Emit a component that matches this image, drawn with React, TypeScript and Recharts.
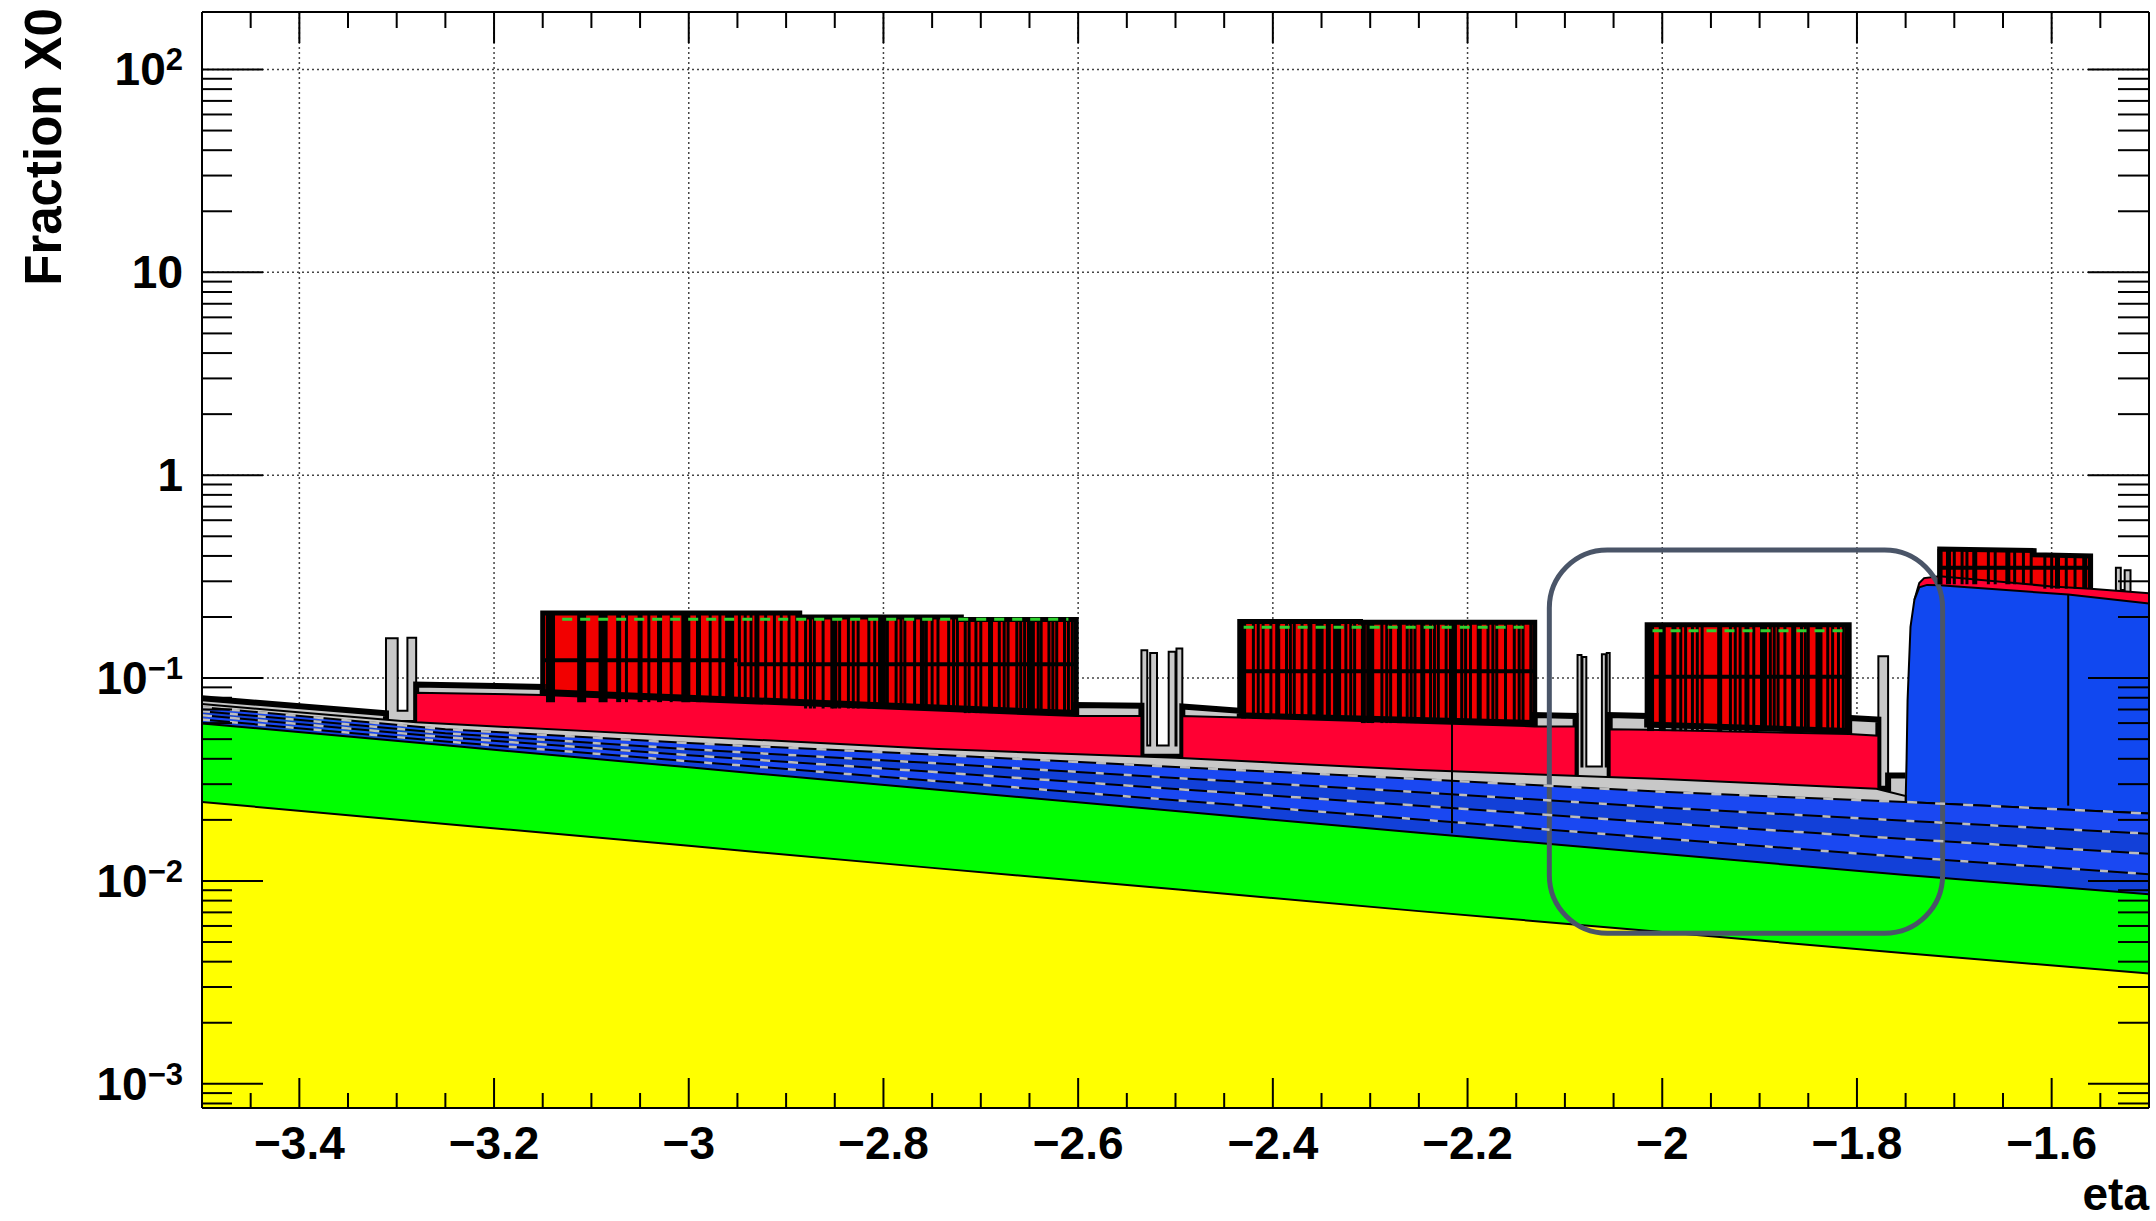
import React from 'react';
import { ComposedChart, Area, Line, XAxis, YAxis, CartesianGrid, ReferenceLine, ReferenceArea } from 'recharts';

type Pt = [number, number];

// ---------- axis ticks ----------
const majorX = [-3.4, -3.2, -3.0, -2.8, -2.6, -2.4, -2.2, -2.0, -1.8, -1.6];
const xLabels = ['\u22123.4', '\u22123.2', '\u22123', '\u22122.8', '\u22122.6', '\u22122.4', '\u22122.2', '\u22122', '\u22121.8', '\u22121.6'];
const minorX = [-3.45, -3.35, -3.3, -3.25, -3.15, -3.1, -3.05, -2.95, -2.9, -2.85, -2.75, -2.7, -2.65, -2.55, -2.5, -2.45,
  -2.35, -2.3, -2.25, -2.15, -2.1, -2.05, -1.95, -1.9, -1.85, -1.75, -1.7, -1.65, -1.55];
const majorY = [0.001, 0.01, 0.1, 1, 10, 100];
const yLabelBase = ['10', '10', '10', '1', '10', '10'];
const yLabelExp = ['\u22123', '\u22122', '\u22121', '', '', '2'];
const minorY = [0.0008, 0.0009,
  0.002, 0.003, 0.004, 0.005, 0.006, 0.007, 0.008, 0.009,
  0.02, 0.03, 0.04, 0.05, 0.06, 0.07, 0.08, 0.09,
  0.2, 0.3, 0.4, 0.5, 0.6, 0.7, 0.8, 0.9,
  2, 3, 4, 5, 6, 7, 8, 9,
  20, 30, 40, 50, 60, 70, 80, 90];
const xDomain = [-3.5, -1.5];
const yDomain = [0.00076, 192];

// ---------- smooth layers (read at these eta values) ----------
const bandEta = [-3.5, -3.25, -3.0, -2.75, -2.5, -2.25, -2.0, -1.75, -1.5];
const yellowTop = [0.0245, 0.0191, 0.0149, 0.0116, 0.0091, 0.0071, 0.0056, 0.0044, 0.0035];
const greenTop = [0.0598, 0.0466, 0.0363, 0.0283, 0.0221, 0.0173, 0.0136, 0.0107, 0.0086];
const stripe1Top = [0.0625, 0.0487, 0.0389, 0.0312, 0.0250, 0.0201, 0.0162, 0.0131, 0.0108];
const stripe2Top = [0.0656, 0.0511, 0.0417, 0.0345, 0.0284, 0.0235, 0.0193, 0.0161, 0.0136];
const stripe3Top = [0.0687, 0.0535, 0.0446, 0.0381, 0.0322, 0.0274, 0.0230, 0.0198, 0.0171];
const blueTop = [0.0719, 0.0560, 0.0478, 0.0420, 0.0365, 0.0318, 0.0275, 0.0245, 0.0215];

// ---------- stepped layers: [eta, value] ----------
const greyTop: Pt[] = [[-3.5, 0.0745], [-3.28, 0.0605], [-3.0, 0.0516], [-2.75, 0.0448], [-2.5, 0.0405], [-2.25, 0.0352],
  [-2.0, 0.0318], [-1.78, 0.0285], [-1.75, 0.0262], [-1.75, 0.0245], [-1.5, 0.0215]];
const capTop: Pt[] = [[-3.5, 0.0796], [-3.311, 0.067], [-3.311, 0.06], [-3.28, 0.06], [-3.28, 0.093], [-3.15, 0.0905],
  [-3.15, 0.0855], [-2.602, 0.0672], [-2.602, 0.0736], [-2.535, 0.073], [-2.535, 0.041], [-2.493, 0.041], [-2.493, 0.0725],
  [-2.434, 0.069], [-2.434, 0.0655], [-2.131, 0.06], [-2.131, 0.0657], [-2.089, 0.065], [-2.089, 0.0318], [-2.054, 0.0318],
  [-2.054, 0.0657], [-2.0155, 0.065], [-2.0155, 0.059], [-1.808, 0.0548], [-1.808, 0.0636], [-1.778, 0.0625], [-1.778, 0.0285],
  [-1.768, 0.0285], [-1.768, 0.0331], [-1.75, 0.0331]];
const pinkA: Pt[] = [[-3.28, 0.0605], [-3.28, 0.0847], [-3.15, 0.0826], [-2.602, 0.065], [-2.535, 0.065], [-2.535, 0.0412]];
const pinkB: Pt[] = [[-2.493, 0.04], [-2.493, 0.065], [-2.434, 0.064], [-2.131, 0.0578], [-2.089, 0.0578], [-2.089, 0.0318]];
const pinkC: Pt[] = [[-2.054, 0.0318], [-2.054, 0.056], [-2.0155, 0.0556], [-1.808, 0.053], [-1.778, 0.052], [-1.778, 0.0285]];
const pinkD: Pt[] = [[-1.741, 0.243], [-1.736, 0.294], [-1.731, 0.311], [-1.715, 0.318], [-1.6, 0.283], [-1.56, 0.276], [-1.5, 0.262]];
const blockTop: Pt[] = [[-1.75, 0.0245], [-1.749, 0.04], [-1.748, 0.078], [-1.745, 0.179], [-1.741, 0.243], [-1.736, 0.28],
  [-1.728, 0.288], [-1.715, 0.287], [-1.583, 0.258], [-1.5, 0.233]];
const disk1: Pt[] = [[-3.15, 0.0855], [-3.15, 0.2095], [-2.886, 0.2095], [-2.886, 0.2001], [-2.72, 0.2001], [-2.72, 0.1944],
  [-2.602, 0.1944], [-2.602, 0.0672]];
const disk2: Pt[] = [[-2.434, 0.0655], [-2.434, 0.19], [-2.31, 0.19], [-2.31, 0.1884], [-2.131, 0.1884], [-2.131, 0.06]];
const disk3: Pt[] = [[-2.0155, 0.059], [-2.0155, 0.183], [-1.808, 0.183], [-1.808, 0.0548]];
const disk4: Pt[] = [[-1.715, 0.3], [-1.715, 0.433], [-1.618, 0.425], [-1.618, 0.405], [-1.56, 0.4], [-1.56, 0.276]];
const spikesL: Pt[] = [[-3.311, 0.06], [-3.311, 0.157], [-3.299, 0.157], [-3.299, 0.069], [-3.289, 0.069], [-3.289, 0.158],
  [-3.28, 0.158], [-3.28, 0.06]];
const spikesM: Pt[] = [[-2.535, 0.041], [-2.535, 0.137], [-2.529, 0.137], [-2.529, 0.0465], [-2.526, 0.0465], [-2.526, 0.133],
  [-2.519, 0.133], [-2.519, 0.0465], [-2.507, 0.0465], [-2.507, 0.135], [-2.5, 0.135], [-2.5, 0.0465], [-2.499, 0.0465],
  [-2.499, 0.14], [-2.493, 0.14], [-2.493, 0.041]];
const spikesR: Pt[] = [[-2.087, 0.0318], [-2.087, 0.13], [-2.083, 0.13], [-2.083, 0.0367], [-2.082, 0.0367], [-2.082, 0.127],
  [-2.078, 0.127], [-2.078, 0.0367], [-2.062, 0.0367], [-2.062, 0.131], [-2.058, 0.131], [-2.058, 0.0367], [-2.057, 0.0367],
  [-2.057, 0.133], [-2.054, 0.133], [-2.054, 0.0318]];
const spikeE: Pt[] = [[-1.778, 0.0285], [-1.778, 0.128], [-1.768, 0.128], [-1.768, 0.0285]];
const spikesF: Pt[] = [[-1.534, 0.27], [-1.534, 0.35], [-1.529, 0.35], [-1.529, 0.272], [-1.525, 0.272], [-1.525, 0.34],
  [-1.519, 0.34], [-1.519, 0.268]];

// ---------- disk module lines: eta positions, with group [bottom, top] ----------
const d1LRange = [0.0761, 0.2095];
const d1LWide = [-3.142, -3.11, -3.088, -3.003, -2.958];
const d1LMid = [-3.072, -3.05, -3.03, -2.99, -2.93];
const d1LThin = [-3.064, -3.041, -3.018, -2.978, -2.968, -2.948, -2.942, -2.936, -2.921, -2.912, -2.905, -2.897, -2.889];
const d1MRange = [0.0708, 0.2001];
const d1MMid = [-2.85, -2.8, -2.76];
const d1MThin = [-2.88, -2.875, -2.871, -2.862, -2.853, -2.845, -2.836, -2.831, -2.826, -2.815, -2.809, -2.804, -2.796, -2.787,
  -2.782, -2.778, -2.768, -2.756, -2.75, -2.744, -2.733, -2.728, -2.724];
const d1RRange = [0.0672, 0.1944];
const d1RMid = [-2.69, -2.65];
const d1RThin = [-2.716, -2.712, -2.705, -2.7, -2.681, -2.676, -2.672, -2.663, -2.659, -2.655, -2.646, -2.641, -2.638, -2.63,
  -2.626, -2.622, -2.614, -2.61, -2.606];
const d2LRange = [0.0632, 0.19];
const d2LWide = [-2.352, -2.334];
const d2LMid = [-2.43, -2.362, -2.343, -2.395];
const d2LThin = [-2.42, -2.415, -2.41, -2.402, -2.386, -2.382, -2.378, -2.37, -2.325, -2.32, -2.316];
const d2RRange = [0.06, 0.1884];
const d2RWide = [-2.215, -2.3];
const d2RMid = [-2.307, -2.246, -2.27, -2.188];
const d2RThin = [-2.298, -2.288, -2.283, -2.279, -2.262, -2.258, -2.254, -2.238, -2.234, -2.23, -2.222, -2.206, -2.202, -2.197,
  -2.179, -2.174, -2.17, -2.161, -2.152, -2.147, -2.143, -2.135];
const d3Range = [0.0548, 0.183];
const d3Wide = [-2.012, -2.0, -1.896, -1.839];
const d3Mid = [-1.941, -1.988, -1.913, -1.865];
const d3Thin = [-1.981, -1.976, -1.969, -1.964, -1.959, -1.93, -1.925, -1.92, -1.906, -1.889, -1.885, -1.881, -1.874, -1.857,
  -1.853, -1.85, -1.83, -1.825, -1.819, -1.814, -1.811];
const d4LRange = [0.29, 0.433];
const d4LMid = [-1.7147, -1.679, -1.645, -1.706];
const d4LThin = [-1.7, -1.692, -1.687, -1.665, -1.658, -1.638, -1.629, -1.621];
const d4RRange = [0.276, 0.405];
const d4RMid = [-1.594, -1.566];
const d4RThin = [-1.607, -1.6, -1.585, -1.576, -1.561];
// horizontal lines inside disks: [from, to, value]
const diskMidLines = [[-3.15, -2.95, 0.1225], [-2.95, -2.602, 0.117], [-2.434, -2.131, 0.108], [-2.0155, -1.808, 0.1015], [-1.715, -1.56, 0.35]];
const diskGreenLines = [[-3.13, -2.61, 0.195], [-2.43, -2.14, 0.178], [-2.01, -1.81, 0.171]];
// module boundaries: [eta, bottom, top]
const boundaryLines = [[-2.216, 0.0172, 0.06], [-1.583, 0.0235, 0.258]];

// annotation box (data coords)
const boxEta = [-2.116, -1.712];
const boxVal = [0.00553, 0.428];

// ---------- build table ----------
const pointLayers: [string, Pt[]][] = [
  ['yellow', bandEta.map((e, i) => [e, yellowTop[i]] as Pt)],
  ['green', bandEta.map((e, i) => [e, greenTop[i]] as Pt)],
  ['s1', bandEta.map((e, i) => [e, stripe1Top[i]] as Pt)],
  ['s2', bandEta.map((e, i) => [e, stripe2Top[i]] as Pt)],
  ['s3', bandEta.map((e, i) => [e, stripe3Top[i]] as Pt)],
  ['blue', bandEta.map((e, i) => [e, blueTop[i]] as Pt)],
  ['grey', greyTop], ['cap', capTop], ['pinkA', pinkA], ['pinkB', pinkB], ['pinkC', pinkC], ['pinkD', pinkD],
  ['block', blockTop], ['disk1', disk1], ['disk2', disk2], ['disk3', disk3], ['disk4', disk4],
  ['spikesL', spikesL], ['spikesM', spikesM], ['spikesR', spikesR], ['spikeE', spikeE], ['spikesF', spikesF],
];
const rows: any[] = [];
let order = 0;
pointLayers.forEach(([key, pts]) => pts.forEach(([eta, v]) => rows.push({ eta, [key]: v, _o: order++ })));
rows.sort((a, b) => a.eta - b.eta || a._o - b._o);

// paint order: top layers first, lower layers painted over them
const paint: { key: string; fill: string; sw: number }[] = [
  { key: 'disk1', fill: '#F20000', sw: 5 },
  { key: 'disk2', fill: '#F20000', sw: 5 },
  { key: 'disk3', fill: '#F20000', sw: 5 },
  { key: 'disk4', fill: '#F20000', sw: 5 },
  { key: 'spikesL', fill: '#C8C8C8', sw: 2 },
  { key: 'spikesM', fill: '#C8C8C8', sw: 2 },
  { key: 'spikesR', fill: '#C8C8C8', sw: 2 },
  { key: 'spikeE', fill: '#C8C8C8', sw: 2 },
  { key: 'spikesF', fill: '#C8C8C8', sw: 2 },
  { key: 'cap', fill: '#C8C8C8', sw: 6 },
  { key: 'pinkA', fill: '#FF0033', sw: 2 },
  { key: 'pinkB', fill: '#FF0033', sw: 2 },
  { key: 'pinkC', fill: '#FF0033', sw: 2 },
  { key: 'pinkD', fill: '#FF0033', sw: 2 },
  { key: 'block', fill: '#1148F0', sw: 2 },
  { key: 'grey', fill: '#C8C8C8', sw: 2 },
  { key: 'blue', fill: '#1A48F2', sw: 2 },
  { key: 's3', fill: '#1240D8', sw: 2 },
  { key: 's2', fill: '#1A48F2', sw: 2 },
  { key: 's1', fill: '#1240D8', sw: 2 },
  { key: 'green', fill: '#00FF00', sw: 2 },
  { key: 'yellow', fill: '#FFFF00', sw: 2 },
];
const dashKeys = ['s1', 's2', 's3', 'blue'];

const FONT = '"Liberation Sans", Arial, Helvetica, sans-serif';
const isIn = (arr: number[], v: number) => arr.findIndex((m) => Math.abs(m - v) <= Math.abs(m) * 1e-6 + 1e-9);

const BottomTick = (p: any) => {
  const { x, y, payload } = p;
  const i = isIn(majorX, payload.value);
  const len = i >= 0 ? 30 : 15;
  return (
    <g>
      <line x1={x} x2={x} y1={y} y2={y - len} stroke="#000" strokeWidth={2} />
      {i >= 0 && (
        <text x={x} y={y + 51} textAnchor="middle" fontFamily={FONT} fontWeight="bold" fontSize={46} fill="#000">
          {xLabels[i]}
        </text>
      )}
    </g>
  );
};
const TopTick = (p: any) => {
  const { x, y, payload } = p;
  const len = isIn(majorX, payload.value) >= 0 ? 31 : 16;
  return <line x1={x} x2={x} y1={y} y2={y + len} stroke="#000" strokeWidth={2} />;
};
const LeftTick = (p: any) => {
  const { x, y, payload } = p;
  const i = isIn(majorY, payload.value);
  const len = i >= 0 ? 61 : 30;
  return (
    <g>
      <line x1={x} x2={x + len} y1={y} y2={y} stroke="#000" strokeWidth={2} />
      {i >= 0 && (
        <text x={x - 19} y={y + 16} textAnchor="end" fontFamily={FONT} fontWeight="bold" fontSize={46} fill="#000">
          {yLabelBase[i]}
          {yLabelExp[i] && (
            <tspan fontSize={31} dy={-15}>
              {yLabelExp[i]}
            </tspan>
          )}
        </text>
      )}
    </g>
  );
};
const RightTick = (p: any) => {
  const { x, y, payload } = p;
  const len = isIn(majorY, payload.value) >= 0 ? 61 : 31;
  return <line x1={x} x2={x - len} y1={y} y2={y} stroke="#000" strokeWidth={2} />;
};

const YTitle = () => (
  <text transform="translate(61,8) rotate(-90)" textAnchor="end" fontFamily={FONT} fontWeight="bold" fontSize={51} fill="#000">
    Fraction X0
  </text>
);
const XTitle = () => (
  <text x={2149} y={1210} textAnchor="end" fontFamily={FONT} fontWeight="bold" fontSize={46} fill="#000">
    eta
  </text>
);

const vLines = (etas: number[], range: number[], w: number, tag: string) =>
  etas.map((e, i) => (
    <ReferenceLine key={tag + i} segment={[{ x: e, y: range[0] }, { x: e, y: range[1] }]} stroke="#000" strokeWidth={w} ifOverflow="visible" />
  ));

const allXTicks = [...majorX, ...minorX].sort((a, b) => a - b);
const allYTicks = [...majorY, ...minorY].sort((a, b) => a - b);

export default function App() {
  return (
    <div style={{ position: 'absolute', left: 0, top: 0, width: 2156, height: 1221, background: '#fff' }}>
      <ComposedChart width={2156} height={1221} data={rows} margin={{ top: 0, right: 0, bottom: 0, left: 0 }}>
        <CartesianGrid horizontalValues={majorY} verticalValues={majorX} stroke="#444" strokeDasharray="2 3" strokeWidth={1.5} />
        {paint.map((l) => (
          <Area
            key={l.key}
            type="linear"
            dataKey={l.key}
            connectNulls
            baseValue="dataMin"
            fill={l.fill}
            fillOpacity={1}
            stroke="#000"
            strokeWidth={l.sw}
            dot={false}
            activeDot={false}
            isAnimationActive={false}
          />
        ))}
        {dashKeys.map((k, i) => (
          <Line
            key={'dash' + k}
            type="linear"
            dataKey={k}
            connectNulls
            stroke="#BDBDBD"
            strokeWidth={2.5}
            strokeDasharray={i % 2 ? '10 18' : '8 20'}
            dot={false}
            activeDot={false}
            isAnimationActive={false}
          />
        ))}
        {vLines(d1LWide, d1LRange, 9, 'a')}
        {vLines(d1LMid, d1LRange, 5, 'b')}
        {vLines(d1LThin, d1LRange, 3, 'c')}
        {vLines(d1MMid, d1MRange, 5, 'd')}
        {vLines(d1MThin, d1MRange, 3, 'e')}
        {vLines(d1RMid, d1RRange, 5, 'f')}
        {vLines(d1RThin, d1RRange, 3, 'g')}
        {vLines(d2LWide, d2LRange, 8, 'h')}
        {vLines(d2LMid, d2LRange, 5, 'i')}
        {vLines(d2LThin, d2LRange, 3, 'j')}
        {vLines(d2RWide, d2RRange, 8, 'k')}
        {vLines(d2RMid, d2RRange, 5, 'l')}
        {vLines(d2RThin, d2RRange, 3, 'm')}
        {vLines(d3Wide, d3Range, 7, 'n')}
        {vLines(d3Mid, d3Range, 5, 'o')}
        {vLines(d3Thin, d3Range, 3, 'p')}
        {vLines(d4LMid, d4LRange, 5, 'q')}
        {vLines(d4LThin, d4LRange, 3, 'r')}
        {vLines(d4RMid, d4RRange, 5, 's')}
        {vLines(d4RThin, d4RRange, 3, 't')}
        {diskMidLines.map((s, i) => (
          <ReferenceLine key={'mid' + i} segment={[{ x: s[0], y: s[2] }, { x: s[1], y: s[2] }]} stroke="#000" strokeWidth={4} ifOverflow="visible" />
        ))}
        {diskGreenLines.map((s, i) => (
          <ReferenceLine key={'gr' + i} segment={[{ x: s[0], y: s[2] }, { x: s[1], y: s[2] }]} stroke="#2FD02F" strokeWidth={3} strokeDasharray="10 8" ifOverflow="visible" />
        ))}
        {boundaryLines.map((s, i) => (
          <ReferenceLine key={'bd' + i} segment={[{ x: s[0], y: s[1] }, { x: s[0], y: s[2] }]} stroke="#000" strokeWidth={2} ifOverflow="visible" />
        ))}
        <ReferenceArea
          x1={boxEta[0]}
          x2={boxEta[1]}
          y1={boxVal[0]}
          y2={boxVal[1]}
          ifOverflow="visible"
          shape={(p: any) => (
            <rect x={p.x} y={p.y} width={p.width} height={p.height} rx={58} ry={58} fill="none" stroke="#4A5568" strokeWidth={5} />
          )}
        />
        <XAxis
          dataKey="eta"
          type="number"
          domain={xDomain}
          allowDataOverflow
          ticks={allXTicks}
          interval={0}
          tick={BottomTick}
          tickLine={false}
          tickSize={0}
          tickMargin={0}
          height={113}
          axisLine={{ stroke: '#000', strokeWidth: 2 }}
          label={<XTitle />}
        />
        <XAxis
          xAxisId="top"
          orientation="top"
          dataKey="eta"
          type="number"
          domain={xDomain}
          allowDataOverflow
          ticks={allXTicks}
          interval={0}
          tick={TopTick}
          tickLine={false}
          tickSize={0}
          tickMargin={0}
          height={12}
          axisLine={{ stroke: '#000', strokeWidth: 2 }}
        />
        <YAxis
          type="number"
          scale="log"
          domain={yDomain}
          allowDataOverflow
          ticks={allYTicks}
          interval={0}
          tick={LeftTick}
          tickLine={false}
          tickSize={0}
          tickMargin={0}
          width={202}
          axisLine={{ stroke: '#000', strokeWidth: 2 }}
          label={<YTitle />}
        />
        <YAxis
          yAxisId="right"
          orientation="right"
          type="number"
          scale="log"
          domain={yDomain}
          allowDataOverflow
          ticks={allYTicks}
          interval={0}
          tick={RightTick}
          tickLine={false}
          tickSize={0}
          tickMargin={0}
          width={7}
          axisLine={{ stroke: '#000', strokeWidth: 2 }}
        />
      </ComposedChart>
    </div>
  );
}
